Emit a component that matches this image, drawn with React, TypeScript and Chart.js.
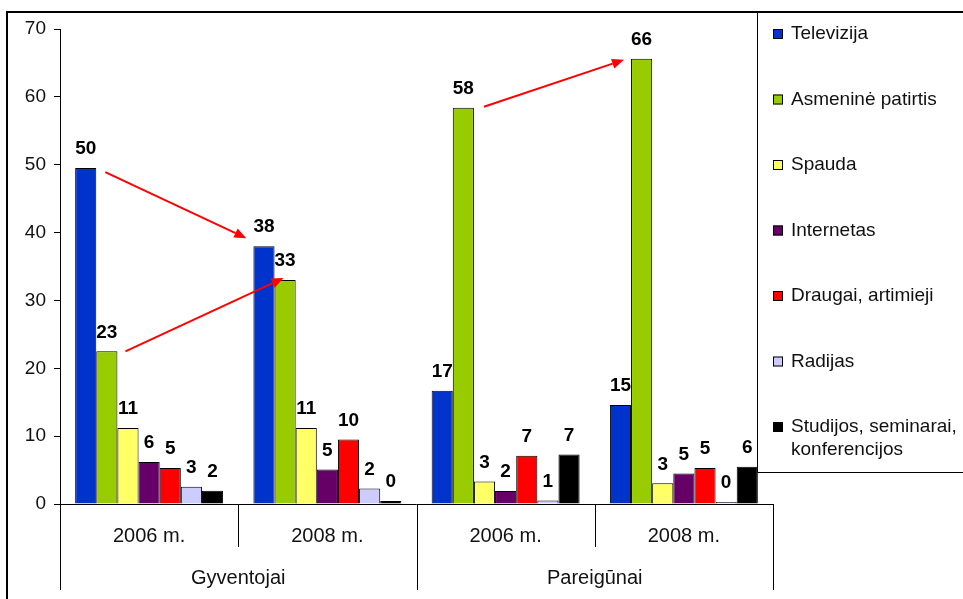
import React, { useEffect, useRef } from "react";
import { Chart, registerables } from "chart.js";

Chart.register(...registerables);

const groups = ["Gyventojai", "Pareigūnai"];
const years = ["2006 m.", "2008 m.", "2006 m.", "2008 m."];
const seriesNames = [
  "Televizija",
  "Asmeninė patirtis",
  "Spauda",
  "Internetas",
  "Draugai, artimieji",
  "Radijas",
  "Studijos, seminarai, konferencijos",
];
const legendLines = [
  ["Televizija"],
  ["Asmeninė patirtis"],
  ["Spauda"],
  ["Internetas"],
  ["Draugai, artimieji"],
  ["Radijas"],
  ["Studijos, seminarai,", "konferencijos"],
];
const televizija = [49.5, 38.0, 16.7, 14.6];
const asmenine = [22.5, 33.0, 58.4, 65.6];
const spauda = [11.2, 11.2, 3.3, 3.05];
const internetas = [6.2, 5.1, 1.9, 4.5];
const draugai = [5.3, 9.5, 7.1, 5.3];
const radijas = [2.55, 2.3, 0.5, 0.3];
const studijos = [1.96, 0.45, 7.3, 5.5];
const colors = ["#0033cc", "#99cc00", "#ffff66", "#660066", "#ff0000", "#ccccff", "#000000"];
const yTicks = [0, 10, 20, 30, 40, 50, 60, 70];

const FONT = "'Liberation Sans', Arial, sans-serif";

function drawArrow(ctx: CanvasRenderingContext2D, x1: number, y1: number, x2: number, y2: number) {
  const ang = Math.atan2(y2 - y1, x2 - x1);
  const hl = 12, hw = 5;
  const bx = x2 - hl * Math.cos(ang), by = y2 - hl * Math.sin(ang);
  ctx.save();
  ctx.strokeStyle = "#ff0000";
  ctx.fillStyle = "#ff0000";
  ctx.lineWidth = 2;
  ctx.beginPath();
  ctx.moveTo(x1, y1);
  ctx.lineTo(bx, by);
  ctx.stroke();
  ctx.beginPath();
  ctx.moveTo(x2, y2);
  ctx.lineTo(bx + hw * Math.sin(ang), by - hw * Math.cos(ang));
  ctx.lineTo(bx - hw * Math.sin(ang), by + hw * Math.cos(ang));
  ctx.closePath();
  ctx.fill();
  ctx.restore();
}

const overlay = {
  id: "overlay",
  afterDraw(chart: any) {
    const ctx: CanvasRenderingContext2D = chart.ctx;
    const area = chart.chartArea;
    const xs = chart.scales.x;
    ctx.save();
    // value labels
    ctx.font = `bold 19px ${FONT}`;
    ctx.fillStyle = "#000";
    ctx.textAlign = "center";
    ctx.textBaseline = "middle";
    chart.data.datasets.forEach((ds: any, di: number) => {
      const meta = chart.getDatasetMeta(di);
      meta.data.forEach((bar: any, i: number) => {
        ctx.fillText(String(Math.round(ds.data[i])), bar.x, bar.y - 19);
      });
    });
    // arrows
    const bar = (d: number, i: number) => {
      const b = chart.getDatasetMeta(d).data[i];
      return { l: b.x - b.width / 2, r: b.x + b.width / 2, t: b.y };
    };
    let a = bar(0, 0), b = bar(0, 1);
    drawArrow(ctx, a.r + 9, a.t + 4, b.l - 7, b.t - 8);
    a = bar(1, 0); b = bar(1, 1);
    drawArrow(ctx, a.r + 8, a.t, b.l + 9, b.t - 2);
    a = bar(1, 2); b = bar(1, 3);
    drawArrow(ctx, a.r + 10, a.t - 1, b.l - 7, b.t + 1);

    // x axis
    const y0 = area.bottom;
    const n = years.length;
    const cw = (area.right - area.left) / n;
    ctx.strokeStyle = "#000";
    ctx.lineWidth = 1;
    ctx.beginPath();
    ctx.moveTo(area.left, y0 + 0.5);
    ctx.lineTo(area.right, y0 + 0.5);
    for (let i = 0; i <= n; i++) {
      const x = Math.round(area.left + i * cw) + 0.5;
      ctx.moveTo(x, y0);
      ctx.lineTo(x, i % 2 === 0 ? y0 + 86 : y0 + 43);
    }
    ctx.stroke();
    ctx.font = `20px ${FONT}`;
    ctx.fillStyle = "#111";
    years.forEach((lab, i) => {
      ctx.fillText(lab, xs.getPixelForValue(i), y0 + 32);
    });
    groups.forEach((g, gi) => {
      ctx.fillText(g, area.left + cw * (gi * 2 + 1), y0 + 74);
    });

    // legend box
    const lx = 757;
    ctx.fillStyle = "#fff";
    ctx.fillRect(lx, 12, chart.width - lx, 460);
    ctx.strokeStyle = "#000";
    ctx.lineWidth = 1;
    ctx.beginPath();
    ctx.moveTo(lx + 0.5, 11);
    ctx.lineTo(lx + 0.5, 472.5);
    ctx.lineTo(chart.width, 472.5);
    ctx.stroke();
    ctx.textAlign = "left";
    ctx.font = `19px ${FONT}`;
    legendLines.forEach((lines, i) => {
      const cy = 34 + i * 65.5;
      ctx.fillStyle = colors[i];
      ctx.fillRect(773, cy - 5, 10, 10);
      ctx.strokeStyle = "#000";
      ctx.strokeRect(773.5, cy - 4.5, 9, 9);
      ctx.fillStyle = "#111";
      lines.forEach((t, li) => ctx.fillText(t, 791, cy + li * 23));
    });

    // outer frame
    ctx.strokeStyle = "#000";
    ctx.lineWidth = 2;
    ctx.beginPath();
    ctx.moveTo(7, chart.height);
    ctx.lineTo(7, 12);
    ctx.lineTo(chart.width, 12);
    ctx.stroke();
    ctx.restore();
  },
};

export default function App() {
  const ref = useRef<HTMLCanvasElement>(null);
  useEffect(() => {
    const values = [televizija, asmenine, spauda, internetas, draugai, radijas, studijos];
    const chart = new Chart(ref.current!, {
      type: "bar",
      data: {
        labels: years,
        datasets: seriesNames.map((name, i) => ({
          label: name,
          data: values[i],
          backgroundColor: colors[i],
          borderColor: "#000",
          borderWidth: 1,
          categoryPercentage: 0.83,
          barPercentage: 1.0,
        })),
      },
      options: {
        animation: false,
        responsive: false,
        maintainAspectRatio: false,
        layout: { padding: { left: 0, right: 190, top: 29, bottom: 95 } },
        plugins: { legend: { display: false }, tooltip: { enabled: false } },
        scales: {
          x: { display: false },
          y: {
            min: 0,
            max: 70,
            afterBuildTicks: (s: any) => {
              s.ticks = yTicks.map((v) => ({ value: v }));
            },
            afterFit: (s: any) => {
              s.width = 60;
            },
            border: { display: true, color: "#000", width: 1 },
            grid: { drawOnChartArea: false, tickLength: 6, color: "#000" },
            ticks: {
              color: "#111",
              font: { family: FONT, size: 19 },
              padding: 8,
            },
          },
        },
      },
      plugins: [overlay],
    });
    return () => chart.destroy();
  }, []);
  return (
    <div style={{ position: "fixed", left: 0, top: 0, width: 963, height: 599, background: "#fff" }}>
      <canvas ref={ref} width={963} height={599} style={{ width: 963, height: 599 }} />
    </div>
  );
}
